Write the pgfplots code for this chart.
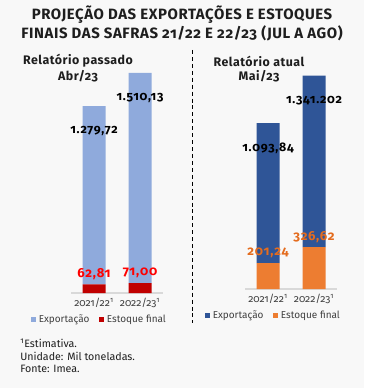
\documentclass[border=0pt]{standalone}
\usepackage{fontspec}
\setmainfont{Fira Sans}[Numbers=OldStyle]
\usepackage{pgfplots}
\pgfplotsset{compat=1.18}
\usepackage{pgfplotstable}
\definecolor{bgc}{RGB}{248,248,248}
\definecolor{titc}{RGB}{30,30,30}
\definecolor{ticc}{RGB}{64,64,64}
\definecolor{expl}{HTML}{8FAADC}
\definecolor{estl}{HTML}{C00000}
\definecolor{labl}{HTML}{FF0000}
\definecolor{expr}{HTML}{2F5597}
\definecolor{estr}{HTML}{ED7D31}
\definecolor{labr}{HTML}{E46C1E}

\pgfplotstableread{
x est exp estlab explab
0 62.81 1279.72 {62,81} {1.279,72}
1 71.00 1510.13 {71,00} {1.510,13}
}\lefttab
\pgfplotstableread{
x est exp estlab explab
0 201.24 1093.84 {201,24} {1.093,84}
1 326.62 1341.202 {326,62} {1.341.202}
}\righttab

\pgfplotsset{
 base/.style={scale only axis, width=69pt, height=172.5pt, anchor=south west,
  ymin=0, xmin=-0.5, xmax=1.5, clip=false},
 myax/.style={base,
  ybar stacked, bar width=17.25pt,
  axis y line=none, axis x line*=bottom,
  x axis line style={draw=black!15, -, line width=0.8pt},
  xtick=data, xticklabels={2021/22\textsuperscript{1},2022/23\textsuperscript{1}},
  xtick style={draw=none},
  ticklabel style={font=\fontsize{7.8}{8}\selectfont, text=ticc},
  reverse legend,
  legend style={at={(0.5,0)}, anchor=center, yshift=-20pt, xshift=-13pt,
    draw=none, fill=none, legend columns=2, font=\fontsize{7.5}{8}\selectfont, text=ticc,
    /tikz/every even column/.append style={column sep=5pt}},
  legend image code/.code={\fill[##1] (0pt,-2pt) rectangle (4pt,2pt);},
 },
 ovl/.style={base, hide axis, point meta=explicit symbolic},
 explab/.style={nodes near coords, every node near coord/.append style={anchor=center, yshift=-18.5pt,
   font=\bfseries\fontsize{9.3}{10}\selectfont\addfontfeatures{LetterSpace=6}, text=black}},
 estlab/.style={nodes near coords, every node near coord/.append style={anchor=center, yshift=7.5pt,
   font=\bfseries\fontsize{9.8}{10}\selectfont\addfontfeatures{LetterSpace=6}, text=#1}},
}
\newcommand\ttl{\bfseries\fontsize{11.2}{12}\selectfont\addfontfeatures{LetterSpace=4}}
\newcommand\sub{\bfseries\fontsize{9.3}{10}\selectfont\addfontfeatures{LetterSpace=4}}

\begin{document}
\begin{tikzpicture}
\fill[bgc] (0,0) rectangle (273pt,-291pt);
\node[font=\ttl, text=titc] at (136.5pt,-11.25pt) {PROJEÇÃO DAS EXPORTAÇÕES E ESTOQUES};
\node[font=\ttl, text=titc] at (136.5pt,-24.75pt) {FINAIS DAS SAFRAS 21/22 E 22/23 (JUL A AGO)};
\node[font=\sub, text=titc] at (58.5pt,-45.75pt) {Relatório passado};
\node[font=\sub, text=titc] at (58.5pt,-57pt) {Abr/23};
\node[font=\sub, text=titc] at (194.25pt,-45.75pt) {Relatório atual};
\node[font=\sub, text=titc] at (194.25pt,-57pt) {Mai/23};
\draw[black, line width=0.7pt, dash pattern=on 3pt off 2.2pt] (144pt,-37.5pt) -- (144pt,-242pt);
\node[font=\fontsize{8}{9.6}\selectfont, text=titc, anchor=north west, align=left, inner sep=0pt] at (15pt,-254pt) {\textsuperscript{1}Estimativa.\\Unidade: Mil toneladas.\\Fonte: Imea.};

\begin{axis}[myax, at={(53.25pt,-219.75pt)}, ymax=1653]
\addplot[fill=estl, draw=none] table[x=x, y=est] {\lefttab};
\addlegendentry{Estoque final}
\addplot[fill=expl, draw=none] table[x=x, y=exp] {\lefttab};
\addlegendentry{Exportação}
\end{axis}
\begin{axis}[ovl, at={(53.25pt,-219.75pt)}, ymax=1653]
\addplot[draw=none, estlab=labl] table[x=x, y=est, meta=estlab] {\lefttab};
\addplot[draw=none, explab] table[x=x, y expr=\thisrow{est}+\thisrow{exp}, meta=explab] {\lefttab};
\end{axis}

\begin{axis}[myax, at={(183.75pt,-216.75pt)}, ymax=1797]
\addplot[fill=estr, draw=none] table[x=x, y=est] {\righttab};
\addlegendentry{Estoque final}
\addplot[fill=expr, draw=none] table[x=x, y=exp] {\righttab};
\addlegendentry{Exportação}
\end{axis}
\begin{axis}[ovl, at={(183.75pt,-216.75pt)}, ymax=1797]
\addplot[draw=none, estlab=labr] table[x=x, y=est, meta=estlab] {\righttab};
\addplot[draw=none, explab] table[x=x, y expr=\thisrow{est}+\thisrow{exp}, meta=explab] {\righttab};
\end{axis}
\end{tikzpicture}
\end{document}
